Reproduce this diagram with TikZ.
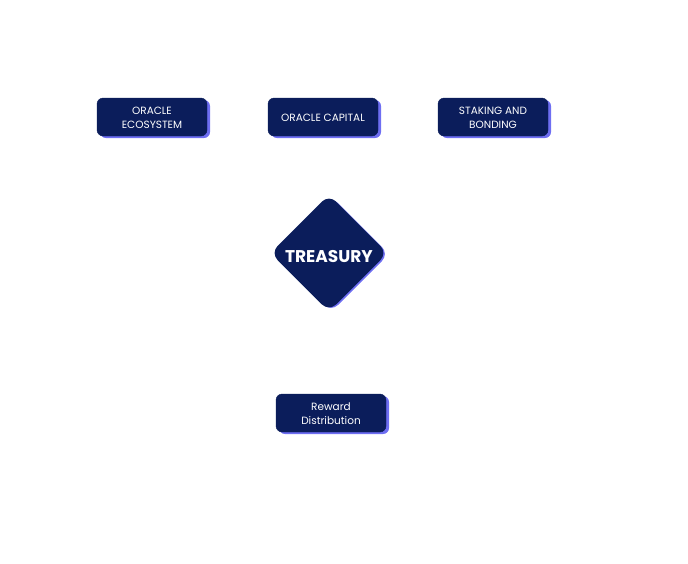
\documentclass[tikz,border=0pt]{standalone}
\usepackage{fontspec}
\setmainfont{Poppins}
\definecolor{navy}{HTML}{0B1D5B}
\definecolor{lav}{HTML}{6E6EF2}
\begin{document}
\begin{tikzpicture}[x=1pt,y=-1pt,
  boxshape/.style={rounded corners=6pt, minimum width=110pt, minimum height=38pt, inner sep=0pt, align=center, text=white, font=\fontsize{10.5}{14}\selectfont},
  mainbox/.style={boxshape, fill=navy, draw=navy},
  shadowbox/.style={boxshape, fill=lav}]
\useasboundingbox (0,0) rectangle (688,563);
% shadows
\foreach \n/\x/\y in {s1/155/119, s2/326/119, s3/496/119, s4/334/415}
  \node[shadowbox] at (\x,\y) {};
\node[mainbox] (eco) at (152,117) {};
\node[mainbox] (cap) at (323,117) {};
\node[mainbox] (stk) at (493,117) {};
\node[mainbox] (rew) at (331,413) {};
\node[boxshape, minimum height=0pt] (ecot) at ([yshift=-1pt]eco.center) {ORACLE\\ECOSYSTEM};
\node[boxshape, minimum height=0pt] (capt) at ([yshift=-1pt]cap.center) {ORACLE CAPITAL};
\node[boxshape, minimum height=0pt] (stkt) at ([yshift=-1pt]stk.center) {STAKING AND\\BONDING};
\node[boxshape, minimum height=0pt] (rewt) at ([yshift=-1pt]rew.center) {Reward\\Distribution};
% treasury diamond
\fill[lav, rounded corners=10pt] (331,196) -- (389,254) -- (331,312) -- (273,254) -- cycle;
\fill[navy, rounded corners=10pt] (329,194.5) -- (387.5,253) -- (329,311.5) -- (270.5,253) -- cycle;
\node[text=white, font=\fontsize{17}{20}\selectfont\bfseries] (tre) at (329,256.5) {TREASURY};
\end{tikzpicture}
\end{document}
